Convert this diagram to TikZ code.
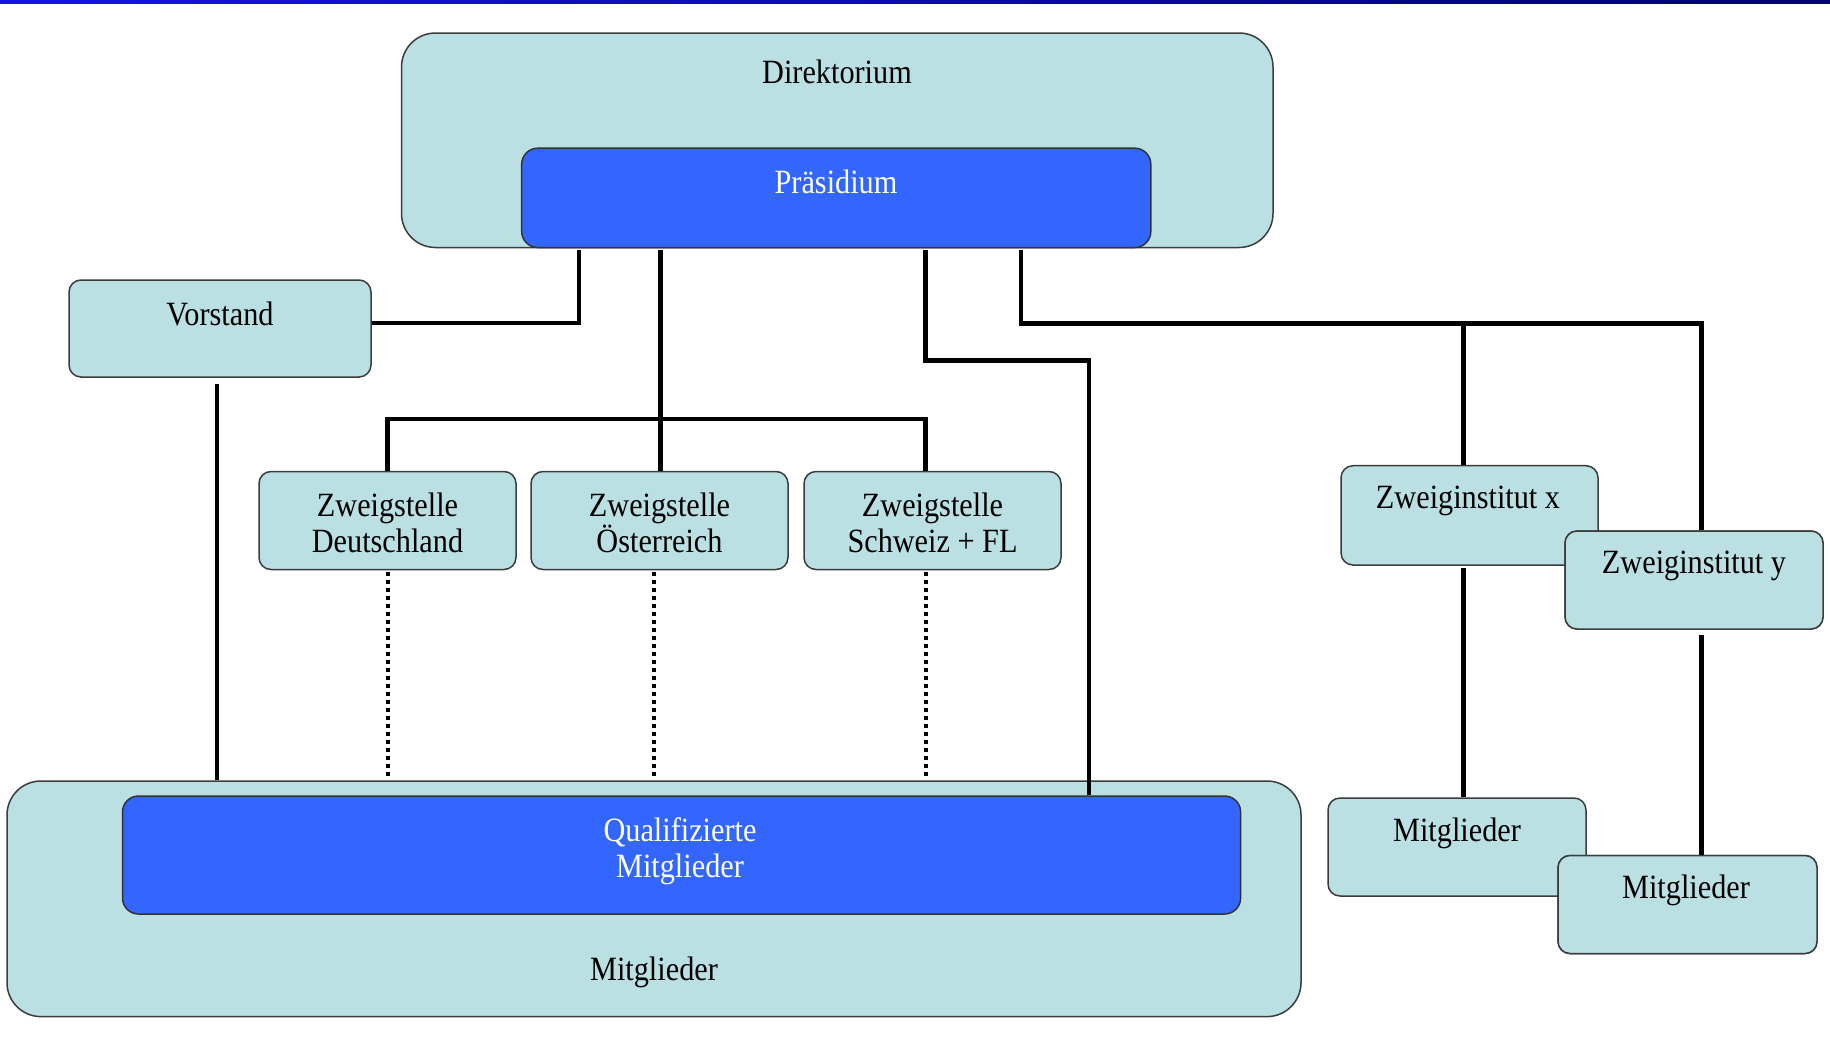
\documentclass[tikz,border=0pt]{standalone}
\usepackage{fontspec}
\setmainfont[FakeStretch=0.89]{Liberation Serif}
\usetikzlibrary{fit,calc}
\definecolor{teal1}{RGB}{186,224,227}
\definecolor{blue1}{RGB}{51,102,255}
\definecolor{edge1}{RGB}{60,60,60}
\tikzset{
  box/.style={draw=edge1, line width=0.75pt, fill=teal1, inner sep=0pt, rounded corners=6pt},
  bigbox/.style={box, rounded corners=17pt},
  bluebox/.style={box, fill=blue1, draw=black!80, rounded corners=8pt},
  lbl/.style={font=\fontsize{17}{18}\selectfont, align=center, inner sep=0pt, text=black},
  wlbl/.style={lbl, text=white},
  conn/.style={line width=2.3pt, line cap=butt},
  dotconn/.style={line width=2pt, dash pattern=on 2pt off 2pt},
}
\begin{document}
\begin{tikzpicture}[x=0.5pt, y=-0.5pt]
\useasboundingbox (0,0) rectangle (1830,1039);
\fill[white] (0,0) rectangle (1830,1039);
\shade[left color={rgb,255:red,20;green,20;blue,230}, right color={rgb,255:red,0;green,0;blue,110}] (0,0) rectangle (1830,3);

% top boxes
\node[bigbox, fit={(401.5,33) (1273,247.5)}] (dir) {};
\node[lbl] (dirT) at (837,72) {Direktorium};
\node[bluebox, fit={(521.7,148.2) (1150.8,247.5)}] (praes) {};
\node[wlbl] (praesT) at (836,182) {Präsidium};

\node[box, fit={(69,280) (371,377)}] (vor) {};
\node[lbl] (vorT) at (220,314) {Vorstand};

\node[box, fit={(259,471.5) (516,569.5)}] (zd) {};
\node[lbl] (zdT) at (387.5,523) {Zweigstelle\\Deutschland};
\node[box, fit={(531,471.5) (788,569.5)}] (zo) {};
\node[lbl] (zoT) at (659.5,523) {Zweigstelle\\Österreich};
\node[box, fit={(804,471.5) (1061,569.5)}] (zs) {};
\node[lbl] (zsT) at (932.5,523) {Zweigstelle\\Schweiz + FL};

\node[box, fit={(1341,465.7) (1598,565)}] (zix) {};
\node[lbl] (zixT) at (1468,501) {Zweiginstitut x};
\node[box, fit={(1565,531) (1823,629)}] (ziy) {};
\node[lbl] (ziyT) at (1694,566) {Zweiginstitut y};

% bottom boxes
\node[bigbox, fit={(7,781) (1301,1016.6)}] (mit) {};
\node[lbl] (mitT) at (654,972) {Mitglieder};
\node[bluebox, fit={(122.5,796) (1240.6,914)}] (qual) {};
\node[wlbl] (qualT) at (680,851) {Qualifizierte\\Mitglieder};

\node[box, fit={(1328,798) (1586,896)}] (mx) {};
\node[lbl] (mxT) at (1457,833) {Mitglieder};
\node[box, fit={(1558,855.5) (1817,953.5)}] (my) {};
\node[lbl] (myT) at (1686,890) {Mitglieder};

% coordinates on Präsidium bottom
\coordinate (p1) at (579,249.5);
\coordinate (p2) at (660.6,249.5);
\coordinate (p3) at (925.5,249.5);
\coordinate (p4) at (1021,249.5);

% connectors
\draw[conn] (vor.east |- 0,323) -| (p1);
\draw[conn] (p2) -- (zo.north -| p2);
\draw[conn] (zd.north) |- (660.6,419) -| (zs.north -| p3);
\draw[conn] (p3) |- (1089,360.6) -- (qual.north -| 1089,0);
\draw[conn] (p4) |- (1701.6,323.3) -- (ziy.north -| 1701.6,0);
\draw[conn] (1463.6,323.3) -- (zix.north -| 1463.6,0);
\draw[conn] (217,384) -- (mit.north -| 217,0);
\draw[conn] (1463.6,568) -- (mx.north -| 1463.6,0);
\draw[conn] (1701.6,635) -- (1701.6,860);

% dotted links
\draw[dotconn] (387.5,572) -- (387.5,777);
\draw[dotconn] (653.6,572) -- (653.6,777);
\draw[dotconn] (925.5,572) -- (925.5,777);

% redraw overlapping boxes on top
\node[box, fit={(1565,531) (1823,629)}] (ziy2) {};
\node[lbl] (ziyT2) at (1694,566) {Zweiginstitut y};
\node[box, fit={(1558,855.5) (1817,953.5)}] (my2) {};
\node[lbl] (myT2) at (1686,890) {Mitglieder};
\end{tikzpicture}
\end{document}
